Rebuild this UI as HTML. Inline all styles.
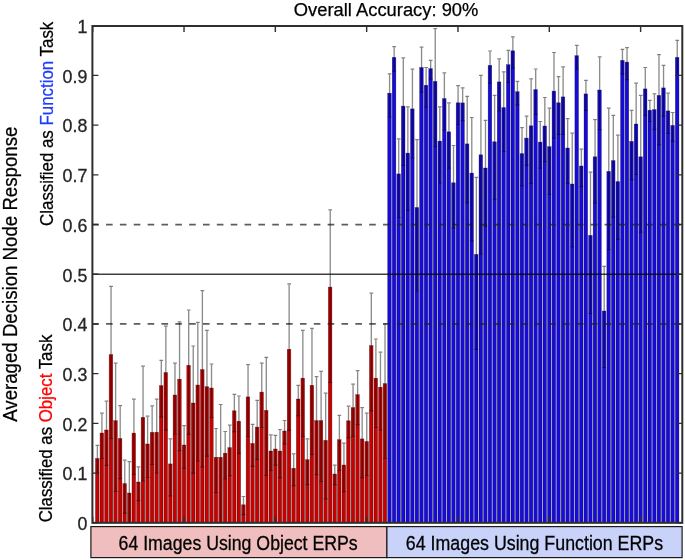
<!DOCTYPE html><html><head><meta charset="utf-8"><style>html,body{margin:0;padding:0;background:#fff;}svg{display:block;will-change:transform;}</style></head><body>
<svg width="685" height="560" viewBox="0 0 685 560" style="font-family:'Liberation Sans', sans-serif">
<rect width="685" height="560" fill="#fff"/>
<rect x="95.46" y="458.5" width="3.62" height="64.3" fill="#c80000" stroke="rgba(0,0,0,0.55)" stroke-width="0.5"/>
<rect x="100.02" y="433" width="3.62" height="89.8" fill="#c80000" stroke="rgba(0,0,0,0.55)" stroke-width="0.5"/>
<rect x="104.59" y="430" width="3.62" height="92.8" fill="#c80000" stroke="rgba(0,0,0,0.55)" stroke-width="0.5"/>
<rect x="109.15" y="354.6" width="3.62" height="168.2" fill="#c80000" stroke="rgba(0,0,0,0.55)" stroke-width="0.5"/>
<rect x="113.72" y="420.7" width="3.62" height="102.1" fill="#c80000" stroke="rgba(0,0,0,0.55)" stroke-width="0.5"/>
<rect x="118.29" y="438.5" width="3.62" height="84.3" fill="#c80000" stroke="rgba(0,0,0,0.55)" stroke-width="0.5"/>
<rect x="122.85" y="483.6" width="3.62" height="39.2" fill="#c80000" stroke="rgba(0,0,0,0.55)" stroke-width="0.5"/>
<rect x="127.42" y="493" width="3.62" height="29.8" fill="#c80000" stroke="rgba(0,0,0,0.55)" stroke-width="0.5"/>
<rect x="131.98" y="433.1" width="3.62" height="89.7" fill="#c80000" stroke="rgba(0,0,0,0.55)" stroke-width="0.5"/>
<rect x="136.55" y="482" width="3.62" height="40.8" fill="#c80000" stroke="rgba(0,0,0,0.55)" stroke-width="0.5"/>
<rect x="141.12" y="417.4" width="3.62" height="105.4" fill="#c80000" stroke="rgba(0,0,0,0.55)" stroke-width="0.5"/>
<rect x="145.68" y="444" width="3.62" height="78.8" fill="#c80000" stroke="rgba(0,0,0,0.55)" stroke-width="0.5"/>
<rect x="150.25" y="432.4" width="3.62" height="90.4" fill="#c80000" stroke="rgba(0,0,0,0.55)" stroke-width="0.5"/>
<rect x="154.81" y="432.2" width="3.62" height="90.6" fill="#c80000" stroke="rgba(0,0,0,0.55)" stroke-width="0.5"/>
<rect x="159.38" y="385.6" width="3.62" height="137.2" fill="#c80000" stroke="rgba(0,0,0,0.55)" stroke-width="0.5"/>
<rect x="163.95" y="372.5" width="3.62" height="150.3" fill="#c80000" stroke="rgba(0,0,0,0.55)" stroke-width="0.5"/>
<rect x="168.51" y="463.9" width="3.62" height="58.9" fill="#c80000" stroke="rgba(0,0,0,0.55)" stroke-width="0.5"/>
<rect x="173.08" y="395" width="3.62" height="127.8" fill="#c80000" stroke="rgba(0,0,0,0.55)" stroke-width="0.5"/>
<rect x="177.64" y="379.2" width="3.62" height="143.6" fill="#c80000" stroke="rgba(0,0,0,0.55)" stroke-width="0.5"/>
<rect x="182.21" y="445" width="3.62" height="77.8" fill="#c80000" stroke="rgba(0,0,0,0.55)" stroke-width="0.5"/>
<rect x="186.78" y="365.3" width="3.62" height="157.5" fill="#c80000" stroke="rgba(0,0,0,0.55)" stroke-width="0.5"/>
<rect x="191.34" y="403" width="3.62" height="119.8" fill="#c80000" stroke="rgba(0,0,0,0.55)" stroke-width="0.5"/>
<rect x="195.91" y="385" width="3.62" height="137.8" fill="#c80000" stroke="rgba(0,0,0,0.55)" stroke-width="0.5"/>
<rect x="200.47" y="369.6" width="3.62" height="153.2" fill="#c80000" stroke="rgba(0,0,0,0.55)" stroke-width="0.5"/>
<rect x="205.04" y="386.7" width="3.62" height="136.1" fill="#c80000" stroke="rgba(0,0,0,0.55)" stroke-width="0.5"/>
<rect x="209.61" y="388" width="3.62" height="134.8" fill="#c80000" stroke="rgba(0,0,0,0.55)" stroke-width="0.5"/>
<rect x="214.17" y="457.3" width="3.62" height="65.5" fill="#c80000" stroke="rgba(0,0,0,0.55)" stroke-width="0.5"/>
<rect x="218.74" y="457.3" width="3.62" height="65.5" fill="#c80000" stroke="rgba(0,0,0,0.55)" stroke-width="0.5"/>
<rect x="223.3" y="453.2" width="3.62" height="69.6" fill="#c80000" stroke="rgba(0,0,0,0.55)" stroke-width="0.5"/>
<rect x="227.87" y="447.6" width="3.62" height="75.2" fill="#c80000" stroke="rgba(0,0,0,0.55)" stroke-width="0.5"/>
<rect x="232.44" y="410.8" width="3.62" height="112" fill="#c80000" stroke="rgba(0,0,0,0.55)" stroke-width="0.5"/>
<rect x="237" y="421.2" width="3.62" height="101.6" fill="#c80000" stroke="rgba(0,0,0,0.55)" stroke-width="0.5"/>
<rect x="241.57" y="504.8" width="3.62" height="18" fill="#c80000" stroke="rgba(0,0,0,0.55)" stroke-width="0.5"/>
<rect x="246.13" y="396.9" width="3.62" height="125.9" fill="#c80000" stroke="rgba(0,0,0,0.55)" stroke-width="0.5"/>
<rect x="250.7" y="443.5" width="3.62" height="79.3" fill="#c80000" stroke="rgba(0,0,0,0.55)" stroke-width="0.5"/>
<rect x="255.27" y="427.1" width="3.62" height="95.7" fill="#c80000" stroke="rgba(0,0,0,0.55)" stroke-width="0.5"/>
<rect x="259.83" y="392.1" width="3.62" height="130.7" fill="#c80000" stroke="rgba(0,0,0,0.55)" stroke-width="0.5"/>
<rect x="264.4" y="410.4" width="3.62" height="112.4" fill="#c80000" stroke="rgba(0,0,0,0.55)" stroke-width="0.5"/>
<rect x="268.96" y="451" width="3.62" height="71.8" fill="#c80000" stroke="rgba(0,0,0,0.55)" stroke-width="0.5"/>
<rect x="273.53" y="449" width="3.62" height="73.8" fill="#c80000" stroke="rgba(0,0,0,0.55)" stroke-width="0.5"/>
<rect x="278.1" y="451" width="3.62" height="71.8" fill="#c80000" stroke="rgba(0,0,0,0.55)" stroke-width="0.5"/>
<rect x="282.66" y="431" width="3.62" height="91.8" fill="#c80000" stroke="rgba(0,0,0,0.55)" stroke-width="0.5"/>
<rect x="287.23" y="349.3" width="3.62" height="173.5" fill="#c80000" stroke="rgba(0,0,0,0.55)" stroke-width="0.5"/>
<rect x="291.79" y="468.3" width="3.62" height="54.5" fill="#c80000" stroke="rgba(0,0,0,0.55)" stroke-width="0.5"/>
<rect x="296.36" y="399" width="3.62" height="123.8" fill="#c80000" stroke="rgba(0,0,0,0.55)" stroke-width="0.5"/>
<rect x="300.93" y="378.2" width="3.62" height="144.6" fill="#c80000" stroke="rgba(0,0,0,0.55)" stroke-width="0.5"/>
<rect x="305.49" y="459.7" width="3.62" height="63.1" fill="#c80000" stroke="rgba(0,0,0,0.55)" stroke-width="0.5"/>
<rect x="310.06" y="385.3" width="3.62" height="137.5" fill="#c80000" stroke="rgba(0,0,0,0.55)" stroke-width="0.5"/>
<rect x="314.62" y="420.6" width="3.62" height="102.2" fill="#c80000" stroke="rgba(0,0,0,0.55)" stroke-width="0.5"/>
<rect x="319.19" y="420.6" width="3.62" height="102.2" fill="#c80000" stroke="rgba(0,0,0,0.55)" stroke-width="0.5"/>
<rect x="323.76" y="440.4" width="3.62" height="82.4" fill="#c80000" stroke="rgba(0,0,0,0.55)" stroke-width="0.5"/>
<rect x="328.32" y="287.1" width="3.62" height="235.7" fill="#c80000" stroke="rgba(0,0,0,0.55)" stroke-width="0.5"/>
<rect x="332.89" y="474" width="3.62" height="48.8" fill="#c80000" stroke="rgba(0,0,0,0.55)" stroke-width="0.5"/>
<rect x="337.45" y="439.7" width="3.62" height="83.1" fill="#c80000" stroke="rgba(0,0,0,0.55)" stroke-width="0.5"/>
<rect x="342.02" y="465" width="3.62" height="57.8" fill="#c80000" stroke="rgba(0,0,0,0.55)" stroke-width="0.5"/>
<rect x="346.59" y="420.8" width="3.62" height="102" fill="#c80000" stroke="rgba(0,0,0,0.55)" stroke-width="0.5"/>
<rect x="351.15" y="407.6" width="3.62" height="115.2" fill="#c80000" stroke="rgba(0,0,0,0.55)" stroke-width="0.5"/>
<rect x="355.72" y="394.7" width="3.62" height="128.1" fill="#c80000" stroke="rgba(0,0,0,0.55)" stroke-width="0.5"/>
<rect x="360.28" y="438.9" width="3.62" height="83.9" fill="#c80000" stroke="rgba(0,0,0,0.55)" stroke-width="0.5"/>
<rect x="364.85" y="441.5" width="3.62" height="81.3" fill="#c80000" stroke="rgba(0,0,0,0.55)" stroke-width="0.5"/>
<rect x="369.42" y="345.6" width="3.62" height="177.2" fill="#c80000" stroke="rgba(0,0,0,0.55)" stroke-width="0.5"/>
<rect x="373.98" y="378.2" width="3.62" height="144.6" fill="#c80000" stroke="rgba(0,0,0,0.55)" stroke-width="0.5"/>
<rect x="378.55" y="387.2" width="3.62" height="135.6" fill="#c80000" stroke="rgba(0,0,0,0.55)" stroke-width="0.5"/>
<rect x="383.11" y="383.6" width="3.62" height="139.2" fill="#c80000" stroke="rgba(0,0,0,0.55)" stroke-width="0.5"/>
<rect x="387.68" y="93.2" width="3.62" height="429.6" fill="#160bdb" stroke="rgba(0,0,0,0.55)" stroke-width="0.5"/>
<rect x="392.25" y="57.4" width="3.62" height="465.4" fill="#160bdb" stroke="rgba(0,0,0,0.55)" stroke-width="0.5"/>
<rect x="396.81" y="173.9" width="3.62" height="348.9" fill="#160bdb" stroke="rgba(0,0,0,0.55)" stroke-width="0.5"/>
<rect x="401.38" y="106.1" width="3.62" height="416.7" fill="#160bdb" stroke="rgba(0,0,0,0.55)" stroke-width="0.5"/>
<rect x="405.94" y="153.1" width="3.62" height="369.7" fill="#160bdb" stroke="rgba(0,0,0,0.55)" stroke-width="0.5"/>
<rect x="410.51" y="108.9" width="3.62" height="413.9" fill="#160bdb" stroke="rgba(0,0,0,0.55)" stroke-width="0.5"/>
<rect x="415.08" y="207.5" width="3.62" height="315.3" fill="#160bdb" stroke="rgba(0,0,0,0.55)" stroke-width="0.5"/>
<rect x="419.64" y="67.5" width="3.62" height="455.3" fill="#160bdb" stroke="rgba(0,0,0,0.55)" stroke-width="0.5"/>
<rect x="424.21" y="85.3" width="3.62" height="437.5" fill="#160bdb" stroke="rgba(0,0,0,0.55)" stroke-width="0.5"/>
<rect x="428.77" y="68.6" width="3.62" height="454.2" fill="#160bdb" stroke="rgba(0,0,0,0.55)" stroke-width="0.5"/>
<rect x="433.34" y="81.4" width="3.62" height="441.4" fill="#160bdb" stroke="rgba(0,0,0,0.55)" stroke-width="0.5"/>
<rect x="437.91" y="141.1" width="3.62" height="381.7" fill="#160bdb" stroke="rgba(0,0,0,0.55)" stroke-width="0.5"/>
<rect x="442.47" y="98.6" width="3.62" height="424.2" fill="#160bdb" stroke="rgba(0,0,0,0.55)" stroke-width="0.5"/>
<rect x="447.04" y="131.8" width="3.62" height="391" fill="#160bdb" stroke="rgba(0,0,0,0.55)" stroke-width="0.5"/>
<rect x="451.6" y="182.8" width="3.62" height="340" fill="#160bdb" stroke="rgba(0,0,0,0.55)" stroke-width="0.5"/>
<rect x="456.17" y="102.8" width="3.62" height="420" fill="#160bdb" stroke="rgba(0,0,0,0.55)" stroke-width="0.5"/>
<rect x="460.74" y="102.9" width="3.62" height="419.9" fill="#160bdb" stroke="rgba(0,0,0,0.55)" stroke-width="0.5"/>
<rect x="465.3" y="143.9" width="3.62" height="378.9" fill="#160bdb" stroke="rgba(0,0,0,0.55)" stroke-width="0.5"/>
<rect x="469.87" y="173.1" width="3.62" height="349.7" fill="#160bdb" stroke="rgba(0,0,0,0.55)" stroke-width="0.5"/>
<rect x="474.43" y="254.4" width="3.62" height="268.4" fill="#160bdb" stroke="rgba(0,0,0,0.55)" stroke-width="0.5"/>
<rect x="479" y="154.8" width="3.62" height="368" fill="#160bdb" stroke="rgba(0,0,0,0.55)" stroke-width="0.5"/>
<rect x="483.57" y="168" width="3.62" height="354.8" fill="#160bdb" stroke="rgba(0,0,0,0.55)" stroke-width="0.5"/>
<rect x="488.13" y="65.4" width="3.62" height="457.4" fill="#160bdb" stroke="rgba(0,0,0,0.55)" stroke-width="0.5"/>
<rect x="492.7" y="141.8" width="3.62" height="381" fill="#160bdb" stroke="rgba(0,0,0,0.55)" stroke-width="0.5"/>
<rect x="497.26" y="81.9" width="3.62" height="440.9" fill="#160bdb" stroke="rgba(0,0,0,0.55)" stroke-width="0.5"/>
<rect x="501.83" y="107.6" width="3.62" height="415.2" fill="#160bdb" stroke="rgba(0,0,0,0.55)" stroke-width="0.5"/>
<rect x="506.4" y="64.7" width="3.62" height="458.1" fill="#160bdb" stroke="rgba(0,0,0,0.55)" stroke-width="0.5"/>
<rect x="510.96" y="50.8" width="3.62" height="472" fill="#160bdb" stroke="rgba(0,0,0,0.55)" stroke-width="0.5"/>
<rect x="515.53" y="91.7" width="3.62" height="431.1" fill="#160bdb" stroke="rgba(0,0,0,0.55)" stroke-width="0.5"/>
<rect x="520.09" y="153.6" width="3.62" height="369.2" fill="#160bdb" stroke="rgba(0,0,0,0.55)" stroke-width="0.5"/>
<rect x="524.66" y="138.1" width="3.62" height="384.7" fill="#160bdb" stroke="rgba(0,0,0,0.55)" stroke-width="0.5"/>
<rect x="529.23" y="125.8" width="3.62" height="397" fill="#160bdb" stroke="rgba(0,0,0,0.55)" stroke-width="0.5"/>
<rect x="533.79" y="89.6" width="3.62" height="433.2" fill="#160bdb" stroke="rgba(0,0,0,0.55)" stroke-width="0.5"/>
<rect x="538.36" y="142.1" width="3.62" height="380.7" fill="#160bdb" stroke="rgba(0,0,0,0.55)" stroke-width="0.5"/>
<rect x="542.92" y="126" width="3.62" height="396.8" fill="#160bdb" stroke="rgba(0,0,0,0.55)" stroke-width="0.5"/>
<rect x="547.49" y="146.7" width="3.62" height="376.1" fill="#160bdb" stroke="rgba(0,0,0,0.55)" stroke-width="0.5"/>
<rect x="552.06" y="91.1" width="3.62" height="431.7" fill="#160bdb" stroke="rgba(0,0,0,0.55)" stroke-width="0.5"/>
<rect x="556.62" y="102.8" width="3.62" height="420" fill="#160bdb" stroke="rgba(0,0,0,0.55)" stroke-width="0.5"/>
<rect x="561.19" y="96.9" width="3.62" height="425.9" fill="#160bdb" stroke="rgba(0,0,0,0.55)" stroke-width="0.5"/>
<rect x="565.75" y="148" width="3.62" height="374.8" fill="#160bdb" stroke="rgba(0,0,0,0.55)" stroke-width="0.5"/>
<rect x="570.32" y="184" width="3.62" height="338.8" fill="#160bdb" stroke="rgba(0,0,0,0.55)" stroke-width="0.5"/>
<rect x="574.89" y="55.7" width="3.62" height="467.1" fill="#160bdb" stroke="rgba(0,0,0,0.55)" stroke-width="0.5"/>
<rect x="579.45" y="166" width="3.62" height="356.8" fill="#160bdb" stroke="rgba(0,0,0,0.55)" stroke-width="0.5"/>
<rect x="584.02" y="93.9" width="3.62" height="428.9" fill="#160bdb" stroke="rgba(0,0,0,0.55)" stroke-width="0.5"/>
<rect x="588.58" y="235.4" width="3.62" height="287.4" fill="#160bdb" stroke="rgba(0,0,0,0.55)" stroke-width="0.5"/>
<rect x="593.15" y="156.8" width="3.62" height="366" fill="#160bdb" stroke="rgba(0,0,0,0.55)" stroke-width="0.5"/>
<rect x="597.72" y="90" width="3.62" height="432.8" fill="#160bdb" stroke="rgba(0,0,0,0.55)" stroke-width="0.5"/>
<rect x="602.28" y="311" width="3.62" height="211.8" fill="#160bdb" stroke="rgba(0,0,0,0.55)" stroke-width="0.5"/>
<rect x="606.85" y="171.4" width="3.62" height="351.4" fill="#160bdb" stroke="rgba(0,0,0,0.55)" stroke-width="0.5"/>
<rect x="611.41" y="160.6" width="3.62" height="362.2" fill="#160bdb" stroke="rgba(0,0,0,0.55)" stroke-width="0.5"/>
<rect x="615.98" y="181.6" width="3.62" height="341.2" fill="#160bdb" stroke="rgba(0,0,0,0.55)" stroke-width="0.5"/>
<rect x="620.55" y="60.4" width="3.62" height="462.4" fill="#160bdb" stroke="rgba(0,0,0,0.55)" stroke-width="0.5"/>
<rect x="625.11" y="62.1" width="3.62" height="460.7" fill="#160bdb" stroke="rgba(0,0,0,0.55)" stroke-width="0.5"/>
<rect x="629.68" y="141.4" width="3.62" height="381.4" fill="#160bdb" stroke="rgba(0,0,0,0.55)" stroke-width="0.5"/>
<rect x="634.24" y="124" width="3.62" height="398.8" fill="#160bdb" stroke="rgba(0,0,0,0.55)" stroke-width="0.5"/>
<rect x="638.81" y="156.8" width="3.62" height="366" fill="#160bdb" stroke="rgba(0,0,0,0.55)" stroke-width="0.5"/>
<rect x="643.38" y="88.9" width="3.62" height="433.9" fill="#160bdb" stroke="rgba(0,0,0,0.55)" stroke-width="0.5"/>
<rect x="647.94" y="110.2" width="3.62" height="412.6" fill="#160bdb" stroke="rgba(0,0,0,0.55)" stroke-width="0.5"/>
<rect x="652.51" y="109.6" width="3.62" height="413.2" fill="#160bdb" stroke="rgba(0,0,0,0.55)" stroke-width="0.5"/>
<rect x="657.07" y="95.4" width="3.62" height="427.4" fill="#160bdb" stroke="rgba(0,0,0,0.55)" stroke-width="0.5"/>
<rect x="661.64" y="87.9" width="3.62" height="434.9" fill="#160bdb" stroke="rgba(0,0,0,0.55)" stroke-width="0.5"/>
<rect x="666.21" y="110.9" width="3.62" height="411.9" fill="#160bdb" stroke="rgba(0,0,0,0.55)" stroke-width="0.5"/>
<rect x="670.77" y="125.4" width="3.62" height="397.4" fill="#160bdb" stroke="rgba(0,0,0,0.55)" stroke-width="0.5"/>
<rect x="675.34" y="57.4" width="3.62" height="465.4" fill="#160bdb" stroke="rgba(0,0,0,0.55)" stroke-width="0.5"/>
<line x1="92.7" x2="681.71" y1="274.25" y2="274.25" stroke="rgba(0,0,0,0.75)" stroke-width="1.35"/>
<line x1="92.2" x2="681.71" y1="323.96" y2="323.96" stroke="rgba(30,30,30,0.72)" stroke-width="1.7" stroke-dasharray="6.6 7.25"/>
<line x1="92.2" x2="681.71" y1="224.54" y2="224.54" stroke="rgba(30,30,30,0.72)" stroke-width="1.7" stroke-dasharray="6.6 7.25"/>
<path d="M97.37 445.9V472.4M101.93 413.8V457.9M106.5 401.7V464.8M111.06 287V437.9M115.63 363.8V490.9M120.2 406.3V478M124.76 460.7V512.5M129.33 462.2V522.2M133.89 399.8V473.7M138.46 467.4V500.1M143.03 366.7V480.4M147.59 416.7V476.9M152.16 406.4V463.8M156.72 399.8V472.4M161.29 361V416.2M165.86 326.7V429.2M170.42 439.4V495.2M174.99 363.7V433.4M179.55 322.4V450M184.12 426.3V467.8M188.69 310.6V433.7M193.25 346.6V472.6M197.82 323V460.4M202.38 291.3V466.2M206.95 331V455.6M211.52 364.6V416.9M216.08 429.1V491.9M220.65 405.1V522.2M225.21 432.1V478.4M229.78 425.7V475M234.35 394.9V431M238.91 396.6V452.8M243.48 497.1V514.1M248.04 365.3V435.9M252.61 425V465.7M257.18 400.9V458.9M261.74 363.8V426.9M266.31 358V474.7M270.87 435.4V469.9M275.44 436V464.6M280.01 430.1V477M284.57 421.1V443.2M289.14 284.5V429.7M293.7 454.4V485M298.27 385.9V415.1M302.84 331V435.9M307.4 439.4V484.1M311.97 328.9V453.9M316.53 377.3V474.1M321.1 372V480.9M325.67 393.8V498.2M330.23 210.4V381.9M334.8 465.8V484.1M339.36 415.9V469.7M343.93 443.8V491M348.5 406.7V437.1M353.06 384.8V435.7M357.63 371.3V424.1M362.19 408.2V477M366.76 413.7V474.9M371.33 293.7V410.2M375.89 339.6V426.9M380.46 352.7V429.4M385.02 324.6V457.9M389.59 74.5V116.4M394.16 47.3V70.5M398.72 139.5V216.9M403.29 58.5V164.8M407.85 107.4V209.6M412.42 69.8V157.3M416.99 140.3V290.4M421.55 47.7V91.5M426.12 68.1V106.4M430.68 61V78.3M435.25 29.2V145.9M439.82 107.4V182.4M444.38 73.5V129.4M448.95 103.4V167.5M453.51 146.1V227.6M458.08 86.3V123.9M462.65 88.5V120.1M467.21 97V202M471.78 118.1V240.6M476.34 177.9V348.7M480.91 76V253.4M485.48 121V225.6M490.04 51.6V82.5M494.61 96V198.7M499.17 59.5V110.4M503.74 72.4V150.8M508.31 51V81.9M512.87 37.5V67.5M517.44 82V104.2M522 128.3V185.1M526.57 116.8V164.8M531.14 79.5V182.7M535.7 69.6V113.8M540.27 122.1V167.5M544.83 98.1V161.1M549.4 108.7V193.9M553.97 53.1V137.5M558.53 77.3V133.8M563.1 67.5V133.8M567.66 119.2V182.8M572.23 133.8V246.3M576.8 46V68.4M581.36 149.7V186.1M585.93 81V109.7M590.49 172.8V312.9M595.06 120.2V202.3M599.63 57.4V129M604.19 267V366.9M608.76 108.8V249.1M613.32 116V216.6M617.89 135.8V238.8M622.46 49.9V73.3M627.02 48.2V79.1M631.59 111V179M636.15 83.7V173.9M640.72 96V231.5M645.29 68.1V114.9M649.85 100.9V120.9M654.42 94.5V128.7M658.98 55.2V144M663.55 66V115.5M668.12 93.8V132.7M672.68 113.1V140.8M677.25 40.9V74.8" stroke="rgba(0,0,0,0.45)" stroke-width="1.35" fill="none"/>
<path d="M95.52 445.3H99.22M95.52 473H99.22M100.08 413.2H103.78M100.08 458.5H103.78M104.65 401.1H108.35M104.65 465.4H108.35M109.21 286.4H112.91M109.21 438.5H112.91M113.78 363.2H117.48M113.78 491.5H117.48M118.35 405.7H122.05M118.35 478.6H122.05M122.91 460.1H126.61M122.91 513.1H126.61M127.48 461.6H131.18M132.04 399.2H135.74M132.04 474.3H135.74M136.61 466.8H140.31M136.61 500.7H140.31M141.18 366.1H144.88M141.18 481H144.88M145.74 416.1H149.44M145.74 477.5H149.44M150.31 405.8H154.01M150.31 464.4H154.01M154.87 399.2H158.57M154.87 473H158.57M159.44 360.4H163.14M159.44 416.8H163.14M164.01 326.1H167.71M164.01 429.8H167.71M168.57 438.8H172.27M168.57 495.8H172.27M173.14 363.1H176.84M173.14 434H176.84M177.7 321.8H181.4M177.7 450.6H181.4M182.27 425.7H185.97M182.27 468.4H185.97M186.84 310H190.54M186.84 434.3H190.54M191.4 346H195.1M191.4 473.2H195.1M195.97 322.4H199.67M195.97 461H199.67M200.53 290.7H204.23M200.53 466.8H204.23M205.1 330.4H208.8M205.1 456.2H208.8M209.67 364H213.37M209.67 417.5H213.37M214.23 428.5H217.93M214.23 492.5H217.93M218.8 404.5H222.5M223.36 431.5H227.06M223.36 479H227.06M227.93 425.1H231.63M227.93 475.6H231.63M232.5 394.3H236.2M232.5 431.6H236.2M237.06 396H240.76M237.06 453.4H240.76M241.63 496.5H245.33M241.63 514.7H245.33M246.19 364.7H249.89M246.19 436.5H249.89M250.76 424.4H254.46M250.76 466.3H254.46M255.33 400.3H259.03M255.33 459.5H259.03M259.89 363.2H263.59M259.89 427.5H263.59M264.46 357.4H268.16M264.46 475.3H268.16M269.02 434.8H272.72M269.02 470.5H272.72M273.59 435.4H277.29M273.59 465.2H277.29M278.16 429.5H281.86M278.16 477.6H281.86M282.72 420.5H286.42M282.72 443.8H286.42M287.29 283.9H290.99M287.29 430.3H290.99M291.85 453.8H295.55M291.85 485.6H295.55M296.42 385.3H300.12M296.42 415.7H300.12M300.99 330.4H304.69M300.99 436.5H304.69M305.55 438.8H309.25M305.55 484.7H309.25M310.12 328.3H313.82M310.12 454.5H313.82M314.68 376.7H318.38M314.68 474.7H318.38M319.25 371.4H322.95M319.25 481.5H322.95M323.82 393.2H327.52M323.82 498.8H327.52M328.38 209.8H332.08M328.38 382.5H332.08M332.95 465.2H336.65M332.95 484.7H336.65M337.51 415.3H341.21M337.51 470.3H341.21M342.08 443.2H345.78M342.08 491.6H345.78M346.65 406.1H350.35M346.65 437.7H350.35M351.21 384.2H354.91M351.21 436.3H354.91M355.78 370.7H359.48M355.78 424.7H359.48M360.34 407.6H364.04M360.34 477.6H364.04M364.91 413.1H368.61M364.91 475.5H368.61M369.48 293.1H373.18M369.48 410.8H373.18M374.04 339H377.74M374.04 427.5H377.74M378.61 352.1H382.31M378.61 430H382.31M383.17 324H386.87M383.17 458.5H386.87M387.74 73.9H391.44M387.74 117H391.44M392.31 46.7H396.01M392.31 71.1H396.01M396.87 138.9H400.57M396.87 217.5H400.57M401.44 57.9H405.14M401.44 165.4H405.14M406 106.8H409.7M406 210.2H409.7M410.57 69.2H414.27M410.57 157.9H414.27M415.14 139.7H418.84M415.14 291H418.84M419.7 47.1H423.4M419.7 92.1H423.4M424.27 67.5H427.97M424.27 107H427.97M428.83 60.4H432.53M428.83 78.9H432.53M433.4 28.6H437.1M433.4 146.5H437.1M437.97 106.8H441.67M437.97 183H441.67M442.53 72.9H446.23M442.53 130H446.23M447.1 102.8H450.8M447.1 168.1H450.8M451.66 145.5H455.36M451.66 228.2H455.36M456.23 85.7H459.93M456.23 124.5H459.93M460.8 87.9H464.5M460.8 120.7H464.5M465.36 96.4H469.06M465.36 202.6H469.06M469.93 117.5H473.63M469.93 241.2H473.63M474.49 177.3H478.19M474.49 349.3H478.19M479.06 75.4H482.76M479.06 254H482.76M483.63 120.4H487.33M483.63 226.2H487.33M488.19 51H491.89M488.19 83.1H491.89M492.76 95.4H496.46M492.76 199.3H496.46M497.32 58.9H501.02M497.32 111H501.02M501.89 71.8H505.59M501.89 151.4H505.59M506.46 50.4H510.16M506.46 82.5H510.16M511.02 36.9H514.72M511.02 68.1H514.72M515.59 81.4H519.29M515.59 104.8H519.29M520.15 127.7H523.85M520.15 185.7H523.85M524.72 116.2H528.42M524.72 165.4H528.42M529.29 78.9H532.99M529.29 183.3H532.99M533.85 69H537.55M533.85 114.4H537.55M538.42 121.5H542.12M538.42 168.1H542.12M542.98 97.5H546.68M542.98 161.7H546.68M547.55 108.1H551.25M547.55 194.5H551.25M552.12 52.5H555.82M552.12 138.1H555.82M556.68 76.7H560.38M556.68 134.4H560.38M561.25 66.9H564.95M561.25 134.4H564.95M565.81 118.6H569.51M565.81 183.4H569.51M570.38 133.2H574.08M570.38 246.9H574.08M574.95 45.4H578.65M574.95 69H578.65M579.51 149.1H583.21M579.51 186.7H583.21M584.08 80.4H587.78M584.08 110.3H587.78M588.64 172.2H592.34M588.64 313.5H592.34M593.21 119.6H596.91M593.21 202.9H596.91M597.78 56.8H601.48M597.78 129.6H601.48M602.34 266.4H606.04M602.34 367.5H606.04M606.91 108.2H610.61M606.91 249.7H610.61M611.47 115.4H615.17M611.47 217.2H615.17M616.04 135.2H619.74M616.04 239.4H619.74M620.61 49.3H624.31M620.61 73.9H624.31M625.17 47.6H628.87M625.17 79.7H628.87M629.74 110.4H633.44M629.74 179.6H633.44M634.3 83.1H638M634.3 174.5H638M638.87 95.4H642.57M638.87 232.1H642.57M643.44 67.5H647.14M643.44 115.5H647.14M648 100.3H651.7M648 121.5H651.7M652.57 93.9H656.27M652.57 129.3H656.27M657.13 54.6H660.83M657.13 144.6H660.83M661.7 65.4H665.4M661.7 116.1H665.4M666.27 93.2H669.97M666.27 133.3H669.97M670.83 112.5H674.53M670.83 141.4H674.53M675.4 40.3H679.1M675.4 75.4H679.1" stroke="rgba(0,0,0,0.5)" stroke-width="1.2" fill="none"/>
<rect x="92.4" y="26" width="589.9" height="496.8" fill="none" stroke="#2e2e2e" stroke-width="2.0"/>
<path d="M92.4 522.8h6M682.3 522.8h-6M92.4 473.09h6M682.3 473.09h-6M92.4 423.38h6M682.3 423.38h-6M92.4 373.67h6M682.3 373.67h-6M92.4 323.96h6M682.3 323.96h-6M92.4 274.25h6M682.3 274.25h-6M92.4 224.54h6M682.3 224.54h-6M92.4 174.83h6M682.3 174.83h-6M92.4 125.12h6M682.3 125.12h-6M92.4 75.41h6M682.3 75.41h-6M92.4 25.7h6M682.3 25.7h-6M92.7 26v6M92.7 522.8v-6M184.02 26v6M184.02 522.8v-6M275.34 26v6M275.34 522.8v-6M366.66 26v6M366.66 522.8v-6M457.98 26v6M457.98 522.8v-6M549.3 26v6M549.3 522.8v-6M640.62 26v6M640.62 522.8v-6" stroke="#2e2e2e" stroke-width="1.4" fill="none"/>
<text x="87.3" y="530.1" text-anchor="end" font-size="17.8" fill="#262626" stroke="#262626" stroke-width="0.3">0</text>
<text x="87.3" y="480.39" text-anchor="end" font-size="17.8" fill="#262626" stroke="#262626" stroke-width="0.3">0.1</text>
<text x="87.3" y="430.68" text-anchor="end" font-size="17.8" fill="#262626" stroke="#262626" stroke-width="0.3">0.2</text>
<text x="87.3" y="380.97" text-anchor="end" font-size="17.8" fill="#262626" stroke="#262626" stroke-width="0.3">0.3</text>
<text x="87.3" y="331.26" text-anchor="end" font-size="17.8" fill="#262626" stroke="#262626" stroke-width="0.3">0.4</text>
<text x="87.3" y="281.55" text-anchor="end" font-size="17.8" fill="#262626" stroke="#262626" stroke-width="0.3">0.5</text>
<text x="87.3" y="231.84" text-anchor="end" font-size="17.8" fill="#262626" stroke="#262626" stroke-width="0.3">0.6</text>
<text x="87.3" y="182.13" text-anchor="end" font-size="17.8" fill="#262626" stroke="#262626" stroke-width="0.3">0.7</text>
<text x="87.3" y="132.42" text-anchor="end" font-size="17.8" fill="#262626" stroke="#262626" stroke-width="0.3">0.8</text>
<text x="87.3" y="82.71" text-anchor="end" font-size="17.8" fill="#262626" stroke="#262626" stroke-width="0.3">0.9</text>
<text x="87.3" y="33" text-anchor="end" font-size="17.8" fill="#262626" stroke="#262626" stroke-width="0.3">1</text>
<text x="293.8" y="16.0" font-size="18.8" fill="#000" stroke="#000" stroke-width="0.25" textLength="184.6" lengthAdjust="spacingAndGlyphs">Overall Accuracy: 90%</text>
<text transform="translate(16.9,421.8) rotate(-90)" font-size="20" fill="#000" stroke="#000" stroke-width="0.25" textLength="295.2" lengthAdjust="spacingAndGlyphs">Averaged Decision Node Response</text>
<text transform="translate(52.6,225.9) rotate(-90)" font-size="18" fill="#000" stroke="#000" stroke-width="0.25" textLength="204.2" lengthAdjust="spacingAndGlyphs">Classified as <tspan fill="#1c3dff" stroke="#1c3dff">Function</tspan> Task</text>
<text transform="translate(52.2,522.3) rotate(-90)" font-size="18" fill="#000" stroke="#000" stroke-width="0.25" textLength="187.6" lengthAdjust="spacingAndGlyphs">Classified as <tspan fill="#ff0000" stroke="#ff0000">Object</tspan> Task</text>
<rect x="90.9" y="526.6" width="296" height="31" fill="#f0bebe" stroke="#1a1a1a" stroke-width="1.2"/>
<rect x="386.9" y="526.6" width="295.2" height="31" fill="#c9d3fa" stroke="#1a1a1a" stroke-width="1.2"/>
<text x="118.6" y="549.6" font-size="20.5" fill="#000" stroke="#000" stroke-width="0.3" textLength="239.1" lengthAdjust="spacingAndGlyphs">64 Images Using Object ERPs</text>
<text x="405.8" y="549.6" font-size="20.5" fill="#000" stroke="#000" stroke-width="0.3" textLength="257.3" lengthAdjust="spacingAndGlyphs">64 Images Using Function ERPs</text>
</svg></body></html>
